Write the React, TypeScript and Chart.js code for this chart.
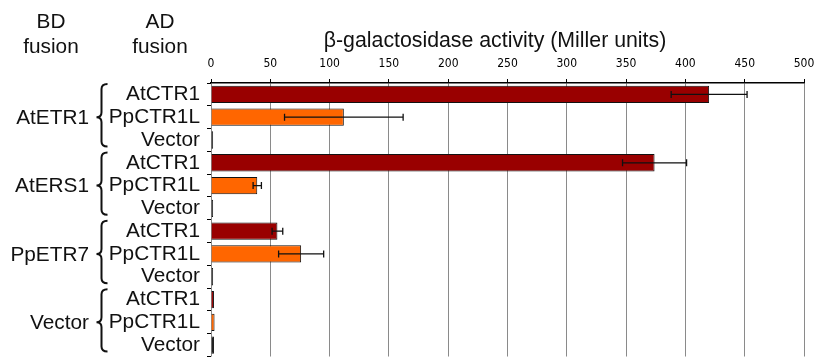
import React, { useEffect, useRef } from "react";
import { Chart, registerables } from "chart.js";

Chart.register(...registerables);

const bdGroups = ["AtETR1", "AtERS1", "PpETR7", "Vector"];
const adLabels = [
  "AtCTR1", "PpCTR1L", "Vector",
  "AtCTR1", "PpCTR1L", "Vector",
  "AtCTR1", "PpCTR1L", "Vector",
  "AtCTR1", "PpCTR1L", "Vector",
];
const activity = [420, 112, 1.8, 374, 39, 1.8, 56, 76, 1.8, 2.5, 3, 2.5];
const errors = [32, 50, 0, 27, 3.5, 0, 4.5, 19, 0, 0, 0, 0];
const adColors: Record<string, string> = {
  AtCTR1: "#990000",
  PpCTR1L: "#FF6600",
  Vector: "#1a1a1a",
};
const xMin = 0;
const xMax = 500;
const xStep = 50;
const titleText = "β-galactosidase activity (Miller units)";

const W = 825;
const H = 376;
const FONT = "'Liberation Sans', Arial, sans-serif";
const NARROW = "'DejaVu Sans Condensed', 'Liberation Sans Narrow', sans-serif";
const TEXT = "#111";

const overlay = {
  id: "overlay",
  afterDatasetsDraw(chart: any) {
    const ctx = chart.ctx;
    const xs = chart.scales.x;
    const meta = chart.getDatasetMeta(0);
    ctx.save();
    ctx.strokeStyle = "#111";
    ctx.lineWidth = 1.3;
    errors.forEach((e, i) => {
      if (!e) return;
      const y = meta.data[i].y;
      const x1 = xs.getPixelForValue(activity[i] - e);
      const x2 = xs.getPixelForValue(activity[i] + e);
      ctx.beginPath();
      ctx.moveTo(x1, y);
      ctx.lineTo(x2, y);
      ctx.moveTo(x1, y - 3.5);
      ctx.lineTo(x1, y + 3.5);
      ctx.moveTo(x2, y - 3.5);
      ctx.lineTo(x2, y + 3.5);
      ctx.stroke();
    });
    ctx.restore();
  },
  afterDraw(chart: any) {
    const ctx = chart.ctx;
    const ys = chart.scales.y;
    const step = ys.getPixelForValue(1) - ys.getPixelForValue(0);
    ctx.save();
    ctx.fillStyle = TEXT;
    ctx.strokeStyle = TEXT;
    // headers
    ctx.font = `20.8px ${FONT}`;
    ctx.textAlign = "center";
    ctx.textBaseline = "alphabetic";
    ctx.fillText("BD", 51, 28);
    ctx.fillText("fusion", 51, 53);
    ctx.fillText("AD", 160, 28);
    ctx.fillText("fusion", 160, 53);
    // axis title
    ctx.font = `21.3px ${FONT}`;
    ctx.fillText(titleText, 495, 47);
    // BD group labels and braces
    ctx.font = `20.8px ${FONT}`;
    ctx.textAlign = "right";
    ctx.textBaseline = "middle";
    bdGroups.forEach((g, gi) => {
      const mid = ys.getPixelForValue(gi * 3 + 1);
      ctx.fillText(g, 89, mid + 1);
      const top = ys.getPixelForValue(gi * 3) - step / 2 + 1;
      const bot = ys.getPixelForValue(gi * 3 + 2) + step / 2 - 5;
      const sx = 101.5;
      ctx.lineWidth = 2;
      ctx.beginPath();
      ctx.moveTo(sx + 6, top);
      ctx.quadraticCurveTo(sx, top, sx, top + 5);
      ctx.lineTo(sx, mid - 5);
      ctx.quadraticCurveTo(sx, mid, sx - 5, mid);
      ctx.quadraticCurveTo(sx, mid, sx, mid + 5);
      ctx.lineTo(sx, bot - 5);
      ctx.quadraticCurveTo(sx, bot, sx + 6, bot);
      ctx.stroke();
    });
    ctx.restore();
  },
};

export default function App() {
  const ref = useRef<HTMLCanvasElement>(null);
  useEffect(() => {
    if (!ref.current) return;
    const chart = new Chart(ref.current, {
      type: "bar",
      data: {
        labels: adLabels,
        datasets: [
          {
            data: activity,
            backgroundColor: adLabels.map((l) => adColors[l]),
            borderColor: "#111",
            borderWidth: 1,
            barPercentage: 0.76,
            categoryPercentage: 1,
          },
        ],
      },
      options: {
        indexAxis: "y",
        responsive: false,
        animation: false,
        layout: { padding: { left: 0, right: 21, top: 0, bottom: H - 370 } },
        plugins: {
          legend: { display: false },
          tooltip: { enabled: false },
          title: { display: false },
        },
        scales: {
          x: {
            position: "top",
            min: xMin,
            max: xMax,
            ticks: {
              stepSize: xStep,
              color: "#000",
              padding: 8,
              font: { family: NARROW, size: 12 },
            },
            grid: {
              color: "#8a8a8a",
              lineWidth: 1,
              tickLength: 4,
              tickColor: "#000",
            },
            border: { color: "#000", width: 1.5 },
            afterFit: (s: any) => {
              s.height = 83;
            },
          },
          y: {
            ticks: {
              color: TEXT,
              padding: 7,
              autoSkip: false,
              font: { family: FONT, size: 20.8 },
            },
            grid: {
              drawOnChartArea: false,
              tickLength: 4,
              color: "#000",
              offset: true,
            },
            border: { display: false },
            afterFit: (s: any) => {
              s.width = 211;
            },
          },
        },
      },
      plugins: [overlay],
    });
    return () => chart.destroy();
  }, []);
  return (
    <div
      style={{
        position: "absolute",
        left: 0,
        top: 0,
        width: W,
        height: 364,
        overflow: "hidden",
        background: "#fff",
      }}
    >
      <canvas ref={ref} width={W} height={H} style={{ display: "block" }} />
    </div>
  );
}
